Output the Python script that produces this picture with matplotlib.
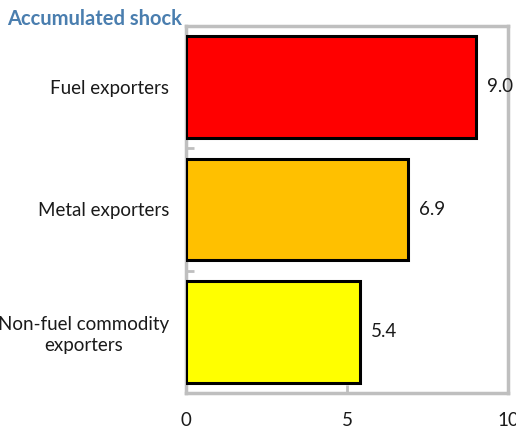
import matplotlib.pyplot as plt
import numpy as np

categories = ['Fuel exporters', 'Metal exporters', 'Non-fuel commodity\nexporters']
values = [9.0, 6.9, 5.4]
colors = ['#FF0000', '#FFC000', '#FFFF00']
xticks = [0, 5, 10]

plt.rcParams['font.family'] = ['Lato', 'DejaVu Sans']

fig = plt.figure(figsize=(5.16, 4.45), dpi=100)
ax = fig.add_axes([0.3605, 0.117, 0.624, 0.825])

pos = np.arange(len(categories))
ax.barh(pos, values, height=0.83, color=colors, edgecolor='black', linewidth=2.2, zorder=3)

# data labels right of bars
for p, v in zip(pos, values):
    ax.annotate(f'{v:.1f}', xy=(v, p), xytext=(8, 0), textcoords='offset points',
                va='center', ha='left', fontsize=13.5, color='#1a1a1a')

ax.set_xlim(0, 10)
ax.set_ylim(2.5, -0.5)
ax.set_xticks(xticks)
ax.set_xticklabels([str(t) for t in xticks], fontsize=13.5, color='#1a1a1a')
ax.tick_params(axis='x', direction='in', length=6, width=2, color='#BFBFBF', pad=14)

ax.set_yticks(pos)
ax.set_yticklabels(categories, fontsize=13.5, multialignment='center',
                   linespacing=1.25, color='#1a1a1a')
ax.tick_params(axis='y', length=0, pad=12)
ax.set_yticks([0.5, 1.5], minor=True)
ax.tick_params(axis='y', which='minor', direction='in', length=6, width=2, color='#BFBFBF')

for s in ax.spines.values():
    s.set_color('#BFBFBF')
    s.set_linewidth(2.5)

fig.text(0.014, 0.958, 'Accumulated shock', fontsize=14.5, fontweight='bold',
         color='#4A7EAF', ha='left', va='center')

fig.savefig('out.png', dpi=100)
